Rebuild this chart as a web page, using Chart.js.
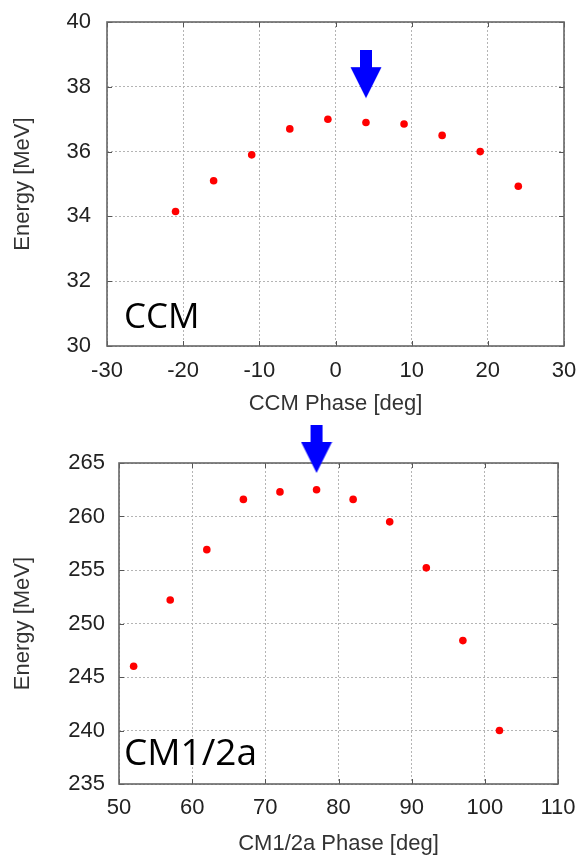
<!DOCTYPE html>
<html><head><meta charset="utf-8">
<script src="https://cdn.jsdelivr.net/npm/chart.js@4"></script>
<style>
html,body{margin:0;padding:0;background:#fff;overflow:hidden;}
#w1{position:absolute;left:0;top:0;width:582px;height:420px;}
#w2{position:absolute;left:0;top:420px;width:582px;height:437px;}
</style></head><body>
<div id="w1"><canvas id="c1"></canvas></div>
<div id="w2"><canvas id="c2"></canvas></div>
<script>
// ---- data: CCM ----
const ccmPhase  = [-21, -16, -11, -6, -1, 4, 9, 14, 19, 24];
const ccmEnergy = [34.15, 35.1, 35.9, 36.7, 37.0, 36.9, 36.85, 36.5, 36.0, 34.93];
const ccmXTicks = [-30, -20, -10, 0, 10, 20, 30];
const ccmYTicks = [30, 32, 34, 36, 38, 40];
const ccmArrowX = [4];
const ccmArrowY = [37.65];
// ---- data: CM1/2a ----
const cmPhase  = [52, 57, 62, 67, 72, 77, 82, 87, 92, 97, 102];
const cmEnergy = [246.0, 252.2, 256.9, 261.6, 262.3, 262.5, 261.6, 259.5, 255.2, 248.4, 240.0];
const cmXTicks = [50, 60, 70, 80, 90, 100, 110];
const cmYTicks = [235, 240, 245, 250, 255, 260, 265];
const cmArrowX = [77];
const cmArrowY = [264.07];

function makeArrow(){
  const c = document.createElement('canvas');
  c.width = 32; c.height = 96;
  const g = c.getContext('2d');
  g.fillStyle = '#0000ff';
  g.fillRect(10, 0, 12, 18);
  g.beginPath();
  g.moveTo(0.5, 17); g.lineTo(31.5, 17); g.lineTo(16, 48); g.closePath();
  g.fill();
  return c;
}

const framePlugin = {
  id: 'frame',
  beforeDatasetsDraw(chart, args, opts){
    const {ctx, chartArea:a} = chart;
    const x = chart.scales.x, y = chart.scales.y;
    ctx.save();
    ctx.strokeStyle = '#555'; ctx.lineWidth = 1;
    ctx.beginPath();
    x.ticks.forEach(t => {
      const px = Math.round(x.getPixelForValue(t.value)) + 0.5;
      ctx.moveTo(px, a.bottom); ctx.lineTo(px, a.bottom - 5);
      ctx.moveTo(px, a.top); ctx.lineTo(px, a.top + 5);
    });
    y.ticks.forEach(t => {
      const py = Math.round(y.getPixelForValue(t.value)) + 0.5;
      ctx.moveTo(a.left, py); ctx.lineTo(a.left + 5, py);
      ctx.moveTo(a.right, py); ctx.lineTo(a.right - 5, py);
    });
    ctx.stroke();
    ctx.strokeStyle = '#666'; ctx.lineWidth = 1.6;
    ctx.strokeRect(a.left, a.top, a.right - a.left, a.bottom - a.top);
    ctx.fillStyle = '#000';
    ctx.font = opts.size + 'px "Open Sans"';
    ctx.textBaseline = 'alphabetic';
    ctx.textAlign = 'left';
    ctx.fillText(opts.label, a.left + opts.dx, a.bottom - opts.dy);
    ctx.restore();
  }
};

const tickFont = {family: '"Liberation Sans", Arial, sans-serif', size: 22};
const titleFont = {family: '"Liberation Sans", Arial, sans-serif', size: 22};

function makeChart(id, xs, ys, ax, ay, cfg){
  return new Chart(document.getElementById(id), {
    type: 'scatter',
    data: {datasets: [
      {data: xs.map((v, i) => ({x: v, y: ys[i]})), backgroundColor: '#ff0000', borderColor: '#ff0000',
       borderWidth: 0, pointRadius: 3.8, pointHoverRadius: 3.8},
      {data: ax.map((v, i) => ({x: v, y: ay[i]})), pointStyle: makeArrow(), pointRadius: 10, clip: false}
    ]},
    options: {
      responsive: true, maintainAspectRatio: false, animation: false, events: [],
      layout: {padding: {top: cfg.padTop, right: cfg.padRight, left: 0, bottom: 0}},
      plugins: {legend: {display: false}, tooltip: {enabled: false},
        frame: {label: cfg.label, dx: cfg.dx, dy: cfg.dy, size: cfg.labelSize}},
      scales: {
        x: {type: 'linear', min: cfg.xTicks[0], max: cfg.xTicks[cfg.xTicks.length - 1],
          afterBuildTicks: s => { s.ticks = cfg.xTicks.map(v => ({value: v})); },
          afterFit: s => { s.height = cfg.xH; s.paddingLeft = 0; s.paddingRight = 0; },
          grid: {color: '#b4b4b4', lineWidth: 1, drawTicks: false},
          border: {display: false, dash: [2, 2]},
          ticks: {padding: cfg.xTickPad, color: '#222', font: tickFont, maxRotation: 0, autoSkip: false},
          title: {display: true, text: cfg.xTitle, color: '#333', font: titleFont, padding: {top: 0, bottom: cfg.xTitlePad}}
        },
        y: {type: 'linear', min: cfg.yTicks[0], max: cfg.yTicks[cfg.yTicks.length - 1],
          afterBuildTicks: s => { s.ticks = cfg.yTicks.map(v => ({value: v})); },
          afterFit: s => { s.width = cfg.yW; s.paddingTop = 0; s.paddingBottom = 0; },
          grid: {color: '#b4b4b4', lineWidth: 1, drawTicks: false},
          border: {display: false, dash: [2, 2]},
          ticks: {padding: cfg.yTickPad, color: '#222', font: tickFont, autoSkip: false},
          title: {display: true, text: 'Energy [MeV]', color: '#333', font: titleFont, padding: {top: 10, bottom: 0}}
        }
      }
    },
    plugins: [framePlugin]
  });
}

makeChart('c1', ccmPhase, ccmEnergy, ccmArrowX, ccmArrowY, {
  padTop: 22, padRight: 18, xH: 74, yW: 107, xTickPad: 12, yTickPad: 16, xTitlePad: 3,
  xTicks: ccmXTicks, yTicks: ccmYTicks, xTitle: 'CCM Phase [deg]',
  label: 'CCM', dx: 17, dy: 18, labelSize: 35
});
makeChart('c2', cmPhase, cmEnergy, cmArrowX, cmArrowY, {
  padTop: 43, padRight: 24, xH: 73, yW: 119, xTickPad: 11, yTickPad: 14, xTitlePad: 0,
  xTicks: cmXTicks, yTicks: cmYTicks, xTitle: 'CM1/2a Phase [deg]',
  label: 'CM1/2a', dx: 5, dy: 19, labelSize: 37
});
</script>
</body></html>
